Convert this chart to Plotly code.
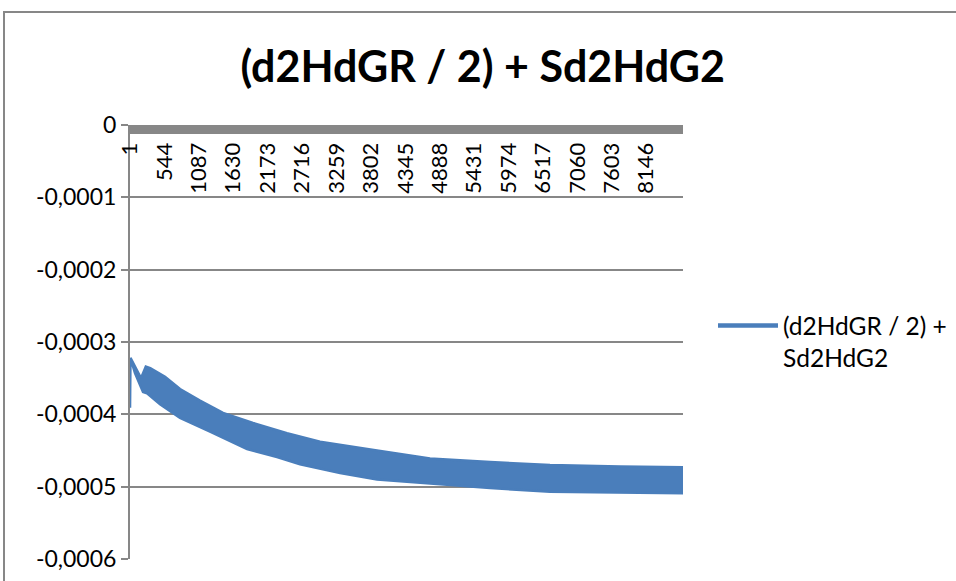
import plotly.graph_objects as go

# ---- data ----
N_CATEGORIES = 8725
x_tick_vals = [1, 544, 1087, 1630, 2173, 2716, 3259, 3802, 4345, 4888, 5431, 5974, 6517, 7060, 7603, 8146]
x_tick_text = ["1", "544", "1087", "1630", "2173", "2716", "3259", "3802", "4345", "4888",
               "5431", "5974", "6517", "7060", "7603", "8146"]

y_tick_vals = [0, -0.0001, -0.0002, -0.0003, -0.0004, -0.0005, -0.0006]
y_tick_text = ["0", "-0,0001", "-0,0002", "-0,0003", "-0,0004", "-0,0005", "-0,0006"]

# upper envelope of the (densely oscillating) series
upper_idx = [1, 8, 174, 250, 320, 553, 790, 1105, 1468, 1941, 2478, 2999, 3898, 4734, 5681, 6628, 7733, 8725]
upper_val = [-3.91e-4, -3.22e-4, -3.50e-4, -3.34e-4, -3.36e-4, -3.48e-4, -3.65e-4, -3.81e-4, -3.98e-4,
             -4.12e-4, -4.26e-4, -4.38e-4, -4.50e-4, -4.61e-4, -4.66e-4, -4.70e-4, -4.72e-4, -4.73e-4]
# lower envelope of the series
lower_idx = [8, 79, 206, 269, 474, 790, 1263, 1847, 2320, 2683, 3315, 3898, 4577, 5681, 6628, 7733, 8725]
lower_val = [-3.22e-4, -3.43e-4, -3.69e-4, -3.71e-4, -3.86e-4, -4.05e-4, -4.24e-4, -4.48e-4,
             -4.59e-4, -4.69e-4, -4.81e-4, -4.90e-4, -4.95e-4, -5.02e-4, -5.07e-4, -5.08e-4, -5.09e-4]

series_name = "(d2HdGR / 2) +<br>Sd2HdG2"
title_text = "(d2HdGR / 2) + Sd2HdG2"

BLUE = "#4A7EBB"
GRAY = "#878787"
FONT = "Lato"

# ---- figure ----
band_x = upper_idx + lower_idx[::-1]
band_y = upper_val + lower_val[::-1]

fig = go.Figure()
fig.add_trace(go.Scatter(
    x=band_x, y=band_y, mode="lines", fill="toself", fillcolor=BLUE,
    line=dict(color=BLUE, width=2.5), showlegend=False, hoverinfo="skip"))
fig.add_trace(go.Scatter(
    x=[None], y=[None], mode="lines", name=series_name,
    line=dict(color=BLUE, width=4.5)))

L, R, T, B = 130, 273, 125, 22
W, H = 956, 581
pw, ph = W - L - R, H - T - B

def px_x(px):
    return (px - L) / pw

def px_y(py):
    return (H - B - py) / ph

fig.update_layout(
    width=W, height=H,
    margin=dict(l=L, r=R, t=T, b=B, pad=0, autoexpand=False),
    paper_bgcolor="white", plot_bgcolor="white",
    font=dict(family=FONT, size=22, color="black"),
    title=dict(text="<b>" + title_text + "</b>", font=dict(family=FONT, size=43, color="black"),
               xref="container", x=0.505, xanchor="center",
               yref="container", y=1 - 67 / H, yanchor="middle"),
    xaxis=dict(
        range=[0.5, N_CATEGORIES + 0.5], anchor="free", position=px_y(129), side="bottom",
        tickmode="array", tickvals=x_tick_vals, ticktext=x_tick_text, tickangle=-90,
        showgrid=False, zeroline=False, showline=True, linecolor=GRAY, linewidth=9,
        ticks="", ticklabelstandoff=0, tickfont=dict(size=22), automargin=False,
    ),
    yaxis=dict(
        range=[-0.0006, 0], tickmode="array", tickvals=y_tick_vals, ticktext=y_tick_text,
        showgrid=True, gridcolor=GRAY, gridwidth=2, zeroline=False,
        showline=True, linecolor=GRAY, linewidth=2,
        ticks="outside", ticklen=7, tickwidth=2, tickcolor=GRAY, ticklabelstandoff=0,
        tickfont=dict(size=23), automargin=False,
    ),
    legend=dict(x=px_x(713), y=px_y(303), xanchor="left", yanchor="top",
                valign="top", font=dict(size=24.5), bgcolor="rgba(0,0,0,0)",
                itemwidth=60, tracegroupgap=0),
    shapes=[dict(type="rect", xref="paper", yref="paper",
                 x0=px_x(4), x1=px_x(W + 20), y0=px_y(H + 20), y1=px_y(12),
                 line=dict(color=GRAY, width=2), fillcolor="rgba(0,0,0,0)", layer="below")],
)

fig.write_html("out.html", config={"displayModeBar": False},
               post_script="document.body.style.margin='0px';")
